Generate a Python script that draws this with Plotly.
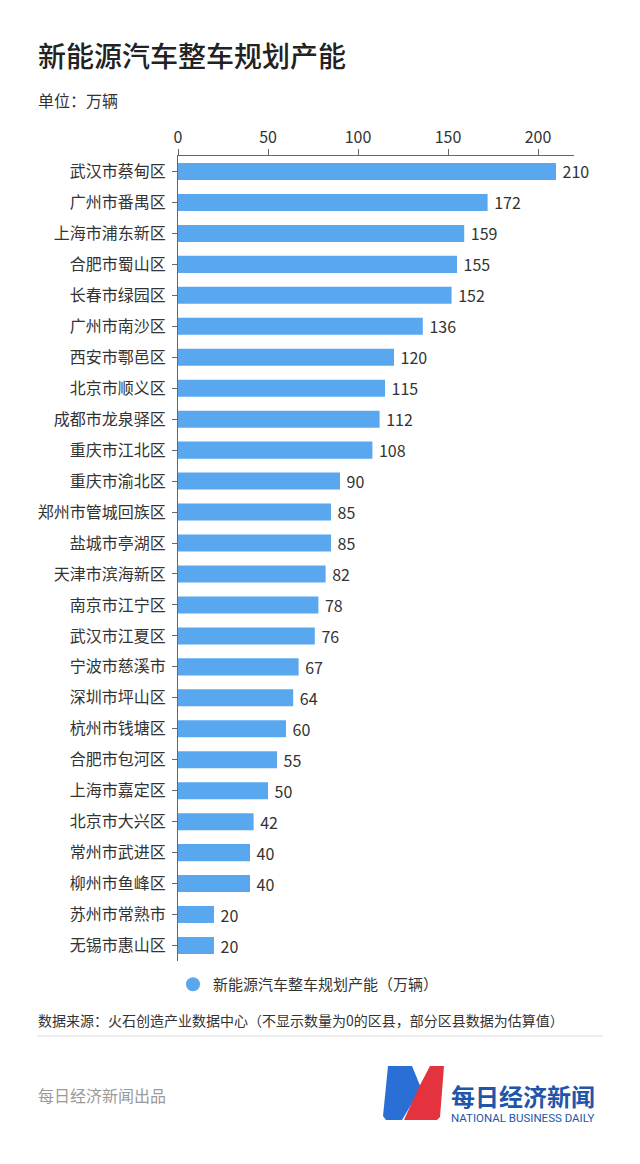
import plotly.graph_objects as go

categories = ["武汉市蔡甸区", "广州市番禺区", "上海市浦东新区", "合肥市蜀山区", "长春市绿园区",
              "广州市南沙区", "西安市鄠邑区", "北京市顺义区", "成都市龙泉驿区", "重庆市江北区",
              "重庆市渝北区", "郑州市管城回族区", "盐城市亭湖区", "天津市滨海新区", "南京市江宁区",
              "武汉市江夏区", "宁波市慈溪市", "深圳市坪山区", "杭州市钱塘区", "合肥市包河区",
              "上海市嘉定区", "北京市大兴区", "常州市武进区", "柳州市鱼峰区", "苏州市常熟市",
              "无锡市惠山区"]
values = [210, 172, 159, 155, 152, 136, 120, 115, 112, 108, 90, 85, 85, 82, 78, 76, 67, 64,
          60, 55, 50, 42, 40, 40, 20, 20]
tick_vals = [0, 50, 100, 150, 200]
series_name = "新能源汽车整车规划产能（万辆）"

W, H = 640, 1164
L, R, T, B = 178, 66, 156, 203
PW, PH = W - L - R, H - T - B

def px(x):
    return (x - L) / PW

def py(y):
    return (H - B - y) / PH

FONT = "Noto Sans CJK SC"
BAR = "#58a7ef"
TXT = "#333333"

fig = go.Figure()
fig.add_trace(go.Bar(
    x=values, y=categories, orientation="h",
    marker=dict(color=BAR, line=dict(width=0)),
    width=0.55,
    text=[" " + str(v) for v in values], textposition="outside",
    textfont=dict(size=16, color=TXT, family=FONT),
    constraintext="none",
    cliponaxis=False, showlegend=False, hoverinfo="skip",
))
fig.add_trace(go.Scatter(
    x=[None], y=[None], mode="markers", name=series_name,
    marker=dict(symbol="circle", size=14, color=BAR),
    showlegend=True,
))

annotations = [
    dict(text="新能源汽车整车规划产能", x=px(36), y=py(55), xanchor="left", yanchor="middle",
         font=dict(size=28, color="#222222", family=FONT, weight=500), showarrow=False),
    dict(text="单位：万辆", x=px(36), y=py(100), xanchor="left", yanchor="middle",
         font=dict(size=16, color=TXT, family=FONT), showarrow=False),
    dict(text="数据来源：火石创造产业数据中心（不显示数量为0的区县，部分区县数据为估算值）",
         x=px(36), y=py(1020), xanchor="left", yanchor="middle",
         font=dict(size=14, color=TXT, family=FONT), showarrow=False),
    dict(text="每日经济新闻出品", x=px(36), y=py(1095), xanchor="left", yanchor="middle",
         font=dict(size=16, color="#9a9a9a", family=FONT), showarrow=False),
    dict(text="<b>每日经济新闻</b>", x=px(449), y=py(1095), xanchor="left", yanchor="middle",
         font=dict(size=24, color="#1f56a8", family=FONT), showarrow=False),
    dict(text="NATIONAL BUSINESS DAILY", x=px(449), y=py(1118), xanchor="left", yanchor="middle",
         font=dict(size=11.5, color="#1f56a8", family="Roboto"), showarrow=False),
]
for a in annotations:
    a.update(xref="paper", yref="paper")

def path(points):
    s = "M " + " L ".join(f"{px(x)},{py(y)}" for x, y in points) + " Z"
    return s

shapes = [
    dict(type="line", xref="paper", yref="paper", x0=px(37), x1=px(603), y0=py(1036), y1=py(1036),
         line=dict(color="#dddddd", width=1)),
    dict(type="path", xref="paper", yref="paper",
         path=path([(388, 1066), (412, 1066), (421, 1088), (402, 1120), (386, 1120), (383, 1116)]),
         fillcolor="#2a6fd6", line=dict(width=0)),
    dict(type="path", xref="paper", yref="paper",
         path=path([(430, 1066), (444, 1066), (440, 1117), (437, 1120), (404, 1120), (419, 1087)]),
         fillcolor="#e5323f", line=dict(width=0)),
]

fig.update_layout(
    width=W, height=H,
    margin=dict(l=L, r=R, t=T, b=B, pad=0),
    paper_bgcolor="white", plot_bgcolor="white",
    font=dict(family=FONT, color=TXT, size=16),
    bargap=0.45,
    xaxis=dict(
        range=[0, 220], side="top", tickvals=tick_vals, ticktext=[str(t) for t in tick_vals],
        showgrid=False, zeroline=False,
        showline=True, linecolor="#666666", linewidth=1,
        ticks="outside", ticklen=6, tickcolor="#666666",
        tickfont=dict(size=16, color=TXT, family=FONT), fixedrange=True,
    ),
    yaxis=dict(
        autorange="reversed", showgrid=False, zeroline=False,
        showline=True, linecolor="#666666", linewidth=1,
        ticks="outside", ticklen=5, tickcolor="#666666",
        tickfont=dict(size=16, color=TXT, family=FONT), fixedrange=True,
        ticklabelstandoff=3,
    ),
    legend=dict(orientation="h", x=px(173), y=py(968), xanchor="left", yanchor="top",
                font=dict(size=15, color=TXT, family=FONT), itemwidth=30,
                bgcolor="rgba(0,0,0,0)"),
    annotations=annotations,
    shapes=shapes,
)

fig.write_html("out.html")
